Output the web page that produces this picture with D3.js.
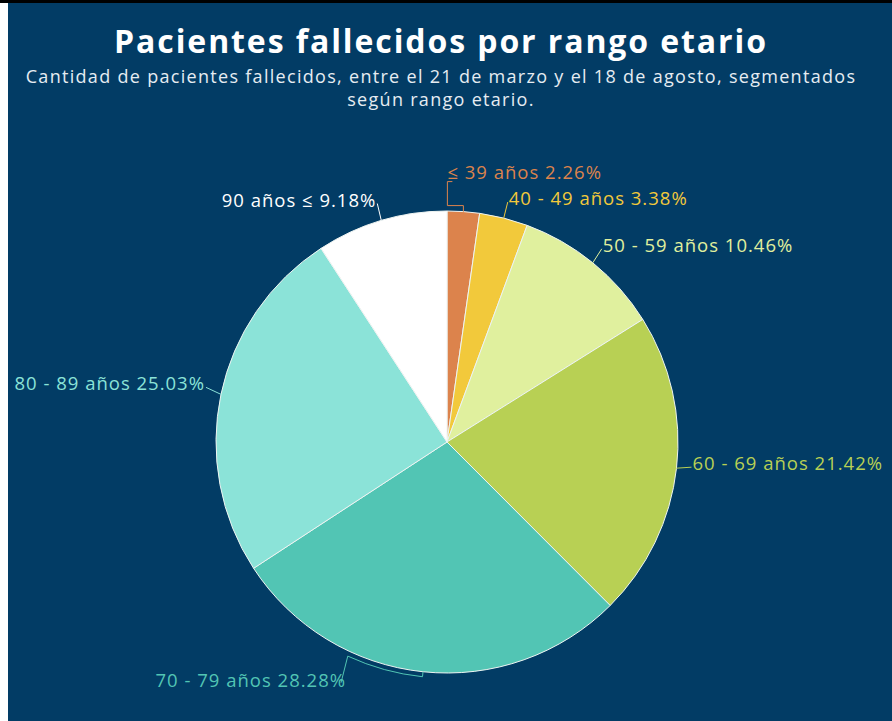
<!DOCTYPE html>
<html>
<head>
<meta charset="utf-8">
<script src="https://cdnjs.cloudflare.com/ajax/libs/d3/7.8.5/d3.min.js"></script>
<style>
  html, body { margin: 0; padding: 0; background: #ffffff; }
  svg { display: block; }
</style>
</head>
<body>
<svg id="chart" width="892" height="721"></svg>
<script>
var ageGroups = ["\u2264 39 a\u00f1os", "40 - 49 a\u00f1os", "50 - 59 a\u00f1os", "60 - 69 a\u00f1os",
                 "70 - 79 a\u00f1os", "80 - 89 a\u00f1os", "90 a\u00f1os \u2264"];
var percentages = [2.26, 3.38, 10.46, 21.42, 28.28, 25.03, 9.18];
var sliceColors = ["#dc834c", "#f2c93b", "#e0f09e", "#b8d054", "#52c5b4", "#8be3d8", "#ffffff"];

var titleText = "Pacientes fallecidos por rango etario";
var subtitleLines = ["Cantidad de pacientes fallecidos, entre el 21 de marzo y el 18 de agosto, segmentados",
                     "según rango etario."];

var svg = d3.select("#chart"),
    width = +svg.attr("width"),
    height = +svg.attr("height"),
    font = "'Open Sans', sans-serif";

// frame: black strip on top, white strip on the left
svg.append("rect").attr("x", 0).attr("y", 0).attr("width", width).attr("height", 3).attr("fill", "#000");
svg.append("rect").attr("x", 8).attr("y", 3).attr("width", width - 8).attr("height", height - 3)
   .attr("fill", "#023c65");

svg.append("text")
   .attr("x", 441)
   .attr("y", 53)
   .attr("text-anchor", "middle")
   .attr("font-family", font)
   .attr("font-weight", "bold")
   .attr("font-size", "32px")
   .attr("letter-spacing", "1.9px")
   .style("fill", "white")
   .text(titleText);

svg.selectAll(".subtitle")
   .data(subtitleLines)
   .enter().append("text")
   .attr("class", "subtitle")
   .attr("x", 441)
   .attr("y", function(d, i) { return 83 + i * 23; })
   .attr("text-anchor", "middle")
   .attr("font-family", font)
   .attr("font-size", "18px")
   .attr("letter-spacing", "1.3px")
   .style("fill", "#e6ecf2")
   .text(function(d) { return d; });

var radius = 231,
    cx = 447,
    cy = 442;

var pie = d3.pie().sort(null).value(function(d) { return d; });
var arcs = pie(percentages);
var arc = d3.arc().innerRadius(0).outerRadius(radius);

var g = svg.append("g").attr("transform", "translate(" + cx + "," + cy + ")");

g.selectAll(".slice")
 .data(arcs)
 .enter().append("path")
 .attr("class", "slice")
 .attr("d", arc)
 .attr("fill", function(d, i) { return sliceColors[i]; })
 .attr("stroke", "#eef4f2")
 .attr("stroke-width", 1);

// point on circle of radius r at angle a (clockwise from 12 o'clock)
function polar(a, r) { return [Math.sin(a) * r, -Math.cos(a) * r]; }
function mid(d) { return (d.startAngle + d.endAngle) / 2; }

// label layout: offsets of the text anchor relative to the slice's edge point
var labelLayout = [
  { dx: -16, dy: -33, anchor: "start" },
  { dx: 5,   dy: -13, anchor: "start" },
  { dx: 10,  dy: -11, anchor: "start" },
  { dx: 16,  dy: 2,   anchor: "start" },
  { dx: -77, dy: 15,  anchor: "end" },
  { dx: -16, dy: -4,  anchor: "end" },
  { dx: -5,  dy: -14, anchor: "end" }
];

function leader(d, i) {
  var a = mid(d), p = polar(a, radius), L = labelLayout[i];
  var tx = p[0] + L.dx, ty = p[1] + L.dy;
  if (i === 0) {
    // bracket up to the label
    return d3.line()([p, [p[0], p[1] - 6], [tx, p[1] - 6], [tx, ty + 3], [tx + 5, ty + 3]]);
  }
  if (i === 4) {
    // follow the rim, then climb to the label
    var r2 = radius + 5, a2 = a + 0.33;
    var path = d3.path();
    path.moveTo(p[0], p[1]);
    var q = polar(a, r2);
    path.lineTo(q[0], q[1]);
    path.arc(0, 0, r2, a - Math.PI / 2, a2 - Math.PI / 2, false);
    path.lineTo(tx - 5, ty - 4);
    return path.toString();
  }
  var end = L.anchor === "start" ? [tx - 1, ty - 3] : [tx + 1, ty - 3];
  return d3.line()([p, end]);
}

g.selectAll(".leader")
 .data(arcs)
 .enter().append("path")
 .attr("class", "leader")
 .attr("d", leader)
 .attr("fill", "none")
 .attr("stroke", function(d, i) { return sliceColors[i]; })
 .attr("stroke-width", 1);

g.selectAll(".label")
 .data(arcs)
 .enter().append("text")
 .attr("class", "label")
 .attr("x", function(d, i) { return polar(mid(d), radius)[0] + labelLayout[i].dx; })
 .attr("y", function(d, i) { return polar(mid(d), radius)[1] + labelLayout[i].dy; })
 .attr("text-anchor", function(d, i) { return labelLayout[i].anchor; })
 .attr("font-family", font)
 .attr("font-size", "18.5px")
 .attr("letter-spacing", "1px")
 .style("fill", function(d, i) { return sliceColors[i]; })
 .text(function(d, i) { return ageGroups[i] + " " + percentages[i].toFixed(2) + "%"; });
</script>
</body>
</html>
